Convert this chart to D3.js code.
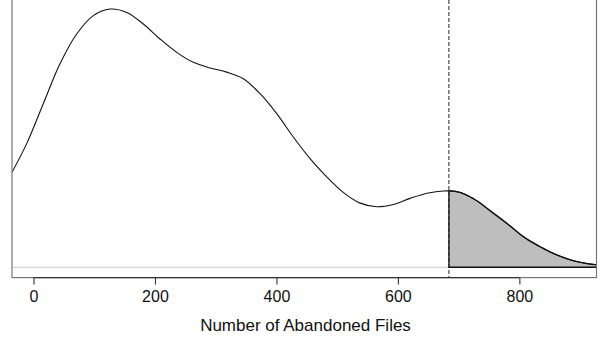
<!DOCTYPE html>
<html><head><meta charset="utf-8">
<script src="https://cdn.jsdelivr.net/npm/d3@7"></script>
<style>body{margin:0;background:#fff}svg{display:block}</style>
</head><body>
<svg id="c" width="608" height="339"></svg>
<script>
// Density estimate of the number of abandoned files (relative units)
const densX = [-35.4, -11.2, 16.1, 43.6, 71.1, 98.5, 126, 153.5, 180.8, 208.3, 235.8, 263.1, 290.6, 318.1, 345.5, 373, 400.5, 427.8, 455.3, 482, 510, 537, 565, 592.5, 620, 648, 675, 700, 727, 754, 781, 808, 835, 862, 889, 916, 927];
const densY = [0.590, 0.768, 1.016, 1.264, 1.449, 1.563, 1.604, 1.583, 1.511, 1.418, 1.335, 1.273, 1.238, 1.212, 1.171, 1.078, 0.954, 0.809, 0.675, 0.565, 0.465, 0.400, 0.376, 0.390, 0.428, 0.460, 0.474, 0.467, 0.420, 0.345, 0.268, 0.186, 0.126, 0.076, 0.041, 0.020, 0.016];
const threshold = 684;
const xTicks = [0, 200, 400, 600, 800];
const xTitle = "Number of Abandoned Files";

(function () {
const svg = d3.select("#c");
const pL = 12, pR = 596.5, pT = -1.3, pB = 277.6;
const x = d3.scaleLinear().domain([-35.4, 927]).range([pL, pR]);
const yMax = d3.max(densY);
const pad = 0.04 / 1.08 * (pB - pT);
const y = d3.scaleLinear().domain([0, yMax]).range([pB - pad, pT + pad]);

const pts = densX.map((d, i) => [d, densY[i]]);
svg.append("defs").append("clipPath").attr("id", "pc")
  .append("rect").attr("x", pL).attr("y", pT).attr("width", pR - pL).attr("height", pB - pT);
const g = svg.append("g").attr("clip-path", "url(#pc)");

// zero baseline
g.append("line").attr("x1", pL).attr("x2", pR).attr("y1", y(0)).attr("y2", y(0))
  .attr("stroke", "#c8c8c8").attr("stroke-width", 1.2);

const line = d3.line().x(d => x(d[0])).y(d => y(d[1])).curve(d3.curveCatmullRom.alpha(0.5));
// sample the smooth curve to get the tail accurately
const pathNode = svg.append("path").attr("d", line(pts)).attr("fill", "none").attr("stroke", "none").node();
const L = pathNode.getTotalLength();
const samples = [];
for (let s = 0; s <= L; s += 0.5) { const p = pathNode.getPointAtLength(s); samples.push([p.x, p.y]); }
pathNode.remove();
const xt = x(threshold);
const tail = samples.filter(p => p[0] >= xt);
let yAt = tail.length ? tail[0][1] : y(0);
const tailPath = "M" + xt + "," + y(0) + "L" + xt + "," + yAt +
  tail.map(p => "L" + p[0] + "," + p[1]).join("") +
  "L" + x(densX[densX.length-1]) + "," + y(0) + "Z";
g.append("path").attr("d", tailPath).attr("fill", "#bebebe").attr("stroke", "#111").attr("stroke-width", 1.3);

// density curve
g.append("path").attr("d", line(pts)).attr("fill", "none").attr("stroke", "#111").attr("stroke-width", 1.1);

// threshold line
svg.append("line").attr("x1", xt).attr("x2", xt).attr("y1", 0).attr("y2", pB)
  .attr("stroke", "#222").attr("stroke-width", 1).attr("stroke-dasharray", "4,2");

// box
svg.append("rect").attr("x", pL).attr("y", pT).attr("width", pR - pL).attr("height", pB - pT)
  .attr("fill", "none").attr("stroke", "#777").attr("stroke-width", 1.2);

// x axis
const ax = svg.append("g").attr("transform", `translate(0,${pB})`)
  .call(d3.axisBottom(x).tickValues(xTicks).tickSize(7).tickPadding(6).tickSizeOuter(0));
ax.select(".domain").attr("d", `M${x(xTicks[0])},0H${x(xTicks[xTicks.length-1])}`).attr("stroke", "#333").attr("stroke-width", 1.3);
ax.selectAll(".tick line").attr("stroke", "#333").attr("stroke-width", 1.1);
ax.selectAll("text").attr("font-family", "Liberation Sans, Arial, sans-serif").attr("font-size", 16).attr("fill", "#111");

svg.append("text").attr("x", 305.5).attr("y", 331).attr("text-anchor", "middle")
  .attr("font-family", "Liberation Sans, Arial, sans-serif").attr("font-size", 17).attr("fill", "#111")
  .text(xTitle);
})();
</script>
</body></html>
